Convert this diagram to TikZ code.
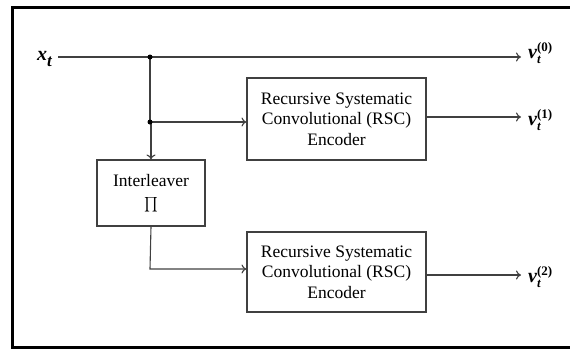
\documentclass[tikz,border=0pt]{standalone}
\usepackage{fontspec}
\setmainfont{Liberation Serif}
\usetikzlibrary{arrows.meta}
\newcommand{\vlab}[1]{{\bfseries\itshape v\rlap{\raisebox{-0.5ex}{\fontsize{13}{13}\selectfont t}}\raisebox{0.8ex}{\fontsize{13}{13}\selectfont\upshape(#1)}}}
\begin{document}
\begin{tikzpicture}[x=1pt,y=-1pt,
  blk/.style={draw=black!75,line width=1.1pt,rectangle,align=center,inner sep=0pt,font=\fontsize{17.5}{20.5}\selectfont},
  wire/.style={draw=black!75,line width=1.1pt},
  arr/.style={wire,-{To[length=5pt,width=9pt]}},
  dot/.style={circle,fill=black,inner sep=0pt,minimum size=5pt},
  lab/.style={font=\fontsize{20}{20}\selectfont,inner sep=0pt}]
\useasboundingbox (0,0) rectangle (570,349);
\draw[line width=3pt] (580,7) -- (12,7) -- (12,347) -- (580,347);
% labels
\node[lab,anchor=east] (xt) at (52,59) {\bfseries\itshape x\raisebox{-0.6ex}{\fontsize{17}{17}\selectfont t}};
\node[lab,anchor=west] (v0) at (528,53) {\vlab{0}};
\node[lab,anchor=west] (v1) at (528,120) {\vlab{1}};
\node[lab,anchor=west] (v2) at (528,277) {\vlab{2}};
% blocks
\node[blk,minimum width=179pt,minimum height=82pt] (e1) at (336.5,119) {Recursive Systematic\\Convolutional (RSC)\\Encoder};
\node[blk,minimum width=179pt,minimum height=80pt] (e2) at (336.5,272) {Recursive Systematic\\Convolutional (RSC)\\Encoder};
\node[blk,minimum width=108pt,minimum height=66pt] (il) at (151,193) {Interleaver\\[4pt]\scalebox{1.45}{$\prod$}};
% coordinates
\coordinate (s) at (58,57);
\coordinate (j1) at (150,57);
\coordinate (j2) at (150,122);
\coordinate (o0) at (521,57);
\coordinate (o1) at (521,117);
\coordinate (o2) at (521,275);
\coordinate (b) at (150,269);
% wires
\draw[arr] (s) -- (o0);
\draw[wire] (j1) -- (j2);
\draw[arr] (j2) -- (j2 -| il.north) -- (il.north);
\draw[arr] (j2) -- (j2 -| e1.west);
\draw[arr] (e1.east |- o1) -- (o1);
\draw[arr] (il.south) -- (b) -- (b -| e2.west);
\draw[arr] (e2.east |- o2) -- (o2);
\node[dot] (d1) at (j1) {};
\node[dot] (d2) at (j2) {};
\end{tikzpicture}
\end{document}
